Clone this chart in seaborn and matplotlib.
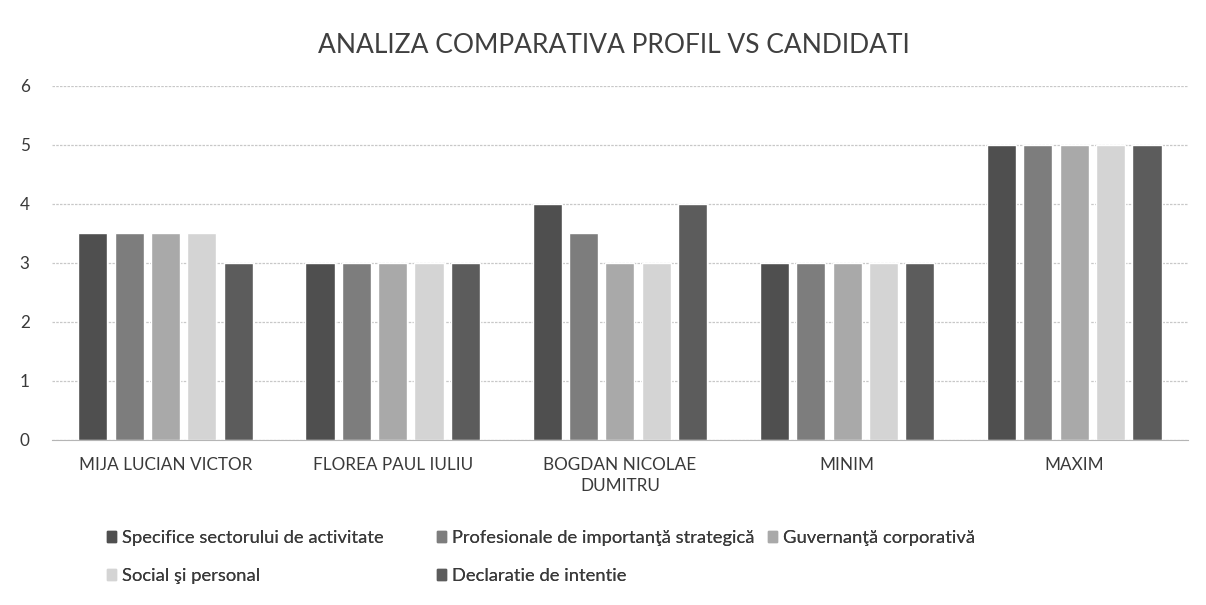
import pandas as pd
import numpy as np
import matplotlib.pyplot as plt
import seaborn as sns

candidati = ['MIJA LUCIAN VICTOR', 'FLOREA PAUL IULIU', 'BOGDAN NICOLAE\nDUMITRU', 'MINIM', 'MAXIM']
criterii = ['Specifice sectorului de activitate',
            'Profesionale de importanţă strategică',
            'Guvernanţă corporativă',
            'Social şi personal',
            'Declaratie de intentie']

specifice = [3.5, 3, 4, 3, 5]
profesionale = [3.5, 3, 3.5, 3, 5]
guvernanta = [3.5, 3, 3, 3, 5]
social = [3.5, 3, 3, 3, 5]
declaratie = [3, 3, 4, 3, 5]

culori = ['#4f4f4f', '#7d7d7d', '#a9a9a9', '#d4d4d4', '#5c5c5c']

rows = []
for crit, vals in zip(criterii, [specifice, profesionale, guvernanta, social, declaratie]):
    for cand, v in zip(candidati, vals):
        rows.append({'Candidat': cand, 'Criteriu': crit, 'Scor': v})
data = pd.DataFrame(rows)

sns.set_style('white')
plt.rcParams['font.family'] = ['Lato', 'DejaVu Sans']

fig = plt.figure(figsize=(12.06, 6.05), dpi=100)
ax = fig.add_axes([0.043, 0.273, 0.942, 0.585])

sns.barplot(data=data, x='Candidat', y='Scor', hue='Criteriu', order=candidati,
            hue_order=criterii, palette=culori, width=0.8, gap=0.2,
            saturation=1, ax=ax, legend=False)

ax.set_ylim(0, 6)
ax.set_yticks(range(0, 7))
ax.set_xlim(-0.5, 4.5)
ax.set_xlabel('')
ax.set_ylabel('')
ax.yaxis.grid(True, color='#c8c8c8', linestyle=(0, (2, 1)), linewidth=0.9)
ax.set_axisbelow(True)
for s in ['top', 'right', 'left']:
    ax.spines[s].set_visible(False)
ax.spines['bottom'].set_color('#b5b5b5')
ax.tick_params(axis='both', length=0, labelsize=12.3, colors='#3a3a3a')
ax.tick_params(axis='y', pad=16)
ax.tick_params(axis='x', pad=12)
for t in ax.get_xticklabels():
    t.set_linespacing(1.45)

fig.text(0.509, 0.925, 'ANALIZA COMPARATIVA PROFIL VS CANDIDATI', ha='center',
         va='center', fontsize=19, color='#3f3f3f')

handles = [plt.Rectangle((0, 0), 1, 1, color=c) for c in culori]
# Excel-style legend: fixed-width columns, placed one by one
coloane = [([0, 3], 107), ([1, 4], 437), ([2], 768)]
for idx, x0 in coloane:
    leg = fig.legend([handles[i] for i in idx], [criterii[i] for i in idx],
                     loc='upper left', bbox_to_anchor=(x0 / 1206, 1 - 530 / 605),
                     ncol=1, frameon=False, fontsize=13.2, labelcolor='#3a3a3a',
                     handlelength=0.5, handleheight=0.5, handletextpad=0.3,
                     labelspacing=1.2, borderpad=0, borderaxespad=0)
    fig.add_artist(leg)

fig.savefig('out.png', dpi=100, facecolor='white')
